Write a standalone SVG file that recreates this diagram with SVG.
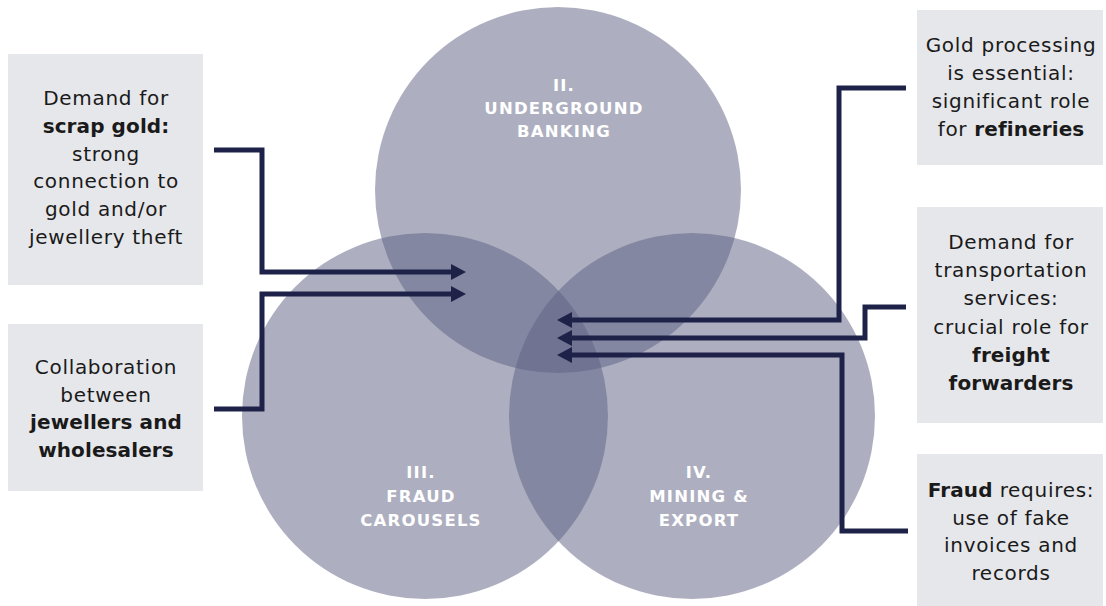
<svg xmlns="http://www.w3.org/2000/svg" width="1106" height="606" viewBox="0 0 1106 606">
  <defs>
    <style>
      .circle { fill: #5b5f81; fill-opacity: 0.5; }
      .box { fill: #e6e7eb; }
      .t { font-family: "DejaVu Sans", "Liberation Sans", sans-serif; font-size: 20px; fill: #1a1a1a; text-anchor: middle; letter-spacing: 0.7px; }
      .b { font-weight: bold; letter-spacing: 0.1px; }
      .lbl { font-family: "DejaVu Sans", "Liberation Sans", sans-serif; font-size: 16.5px; font-weight: bold; fill: #ffffff; text-anchor: middle; letter-spacing: 1.2px; }
      .conn { fill: none; stroke: #1e2248; stroke-width: 5; stroke-linejoin: miter; }
    </style>
    <marker id="arrow" markerUnits="userSpaceOnUse" markerWidth="16" markerHeight="18" refX="0" refY="8" orient="auto" viewBox="0 0 16 16">
      <path d="M0,0 L15,8 L0,16 Z" fill="#1e2248"/>
    </marker>
  </defs>
  <rect width="1106" height="606" fill="#ffffff"/>

  <g id="circle-underground-banking">
    <circle class="circle" cx="558" cy="190" r="183"/>
  </g>
  <g id="circle-fraud-carousels">
    <circle class="circle" cx="425" cy="416" r="183"/>
  </g>
  <g id="circle-mining-export">
    <circle class="circle" cx="692" cy="416" r="183"/>
  </g>
  <g id="labels-circles">
    <text class="lbl" x="564" y="91">II.</text>
    <text class="lbl" x="564" y="114">UNDERGROUND</text>
    <text class="lbl" x="564" y="137">BANKING</text>
    <text class="lbl" x="421" y="478">III.</text>
    <text class="lbl" x="421" y="502">FRAUD</text>
    <text class="lbl" x="421" y="526">CAROUSELS</text>
    <text class="lbl" x="699" y="478">IV.</text>
    <text class="lbl" x="699" y="502">MINING &amp;</text>
    <text class="lbl" x="699" y="526">EXPORT</text>
  </g>

  <g id="box-scrap-gold">
    <rect class="box" x="8" y="54" width="195" height="231"/>
    <text class="t" x="106" y="105">Demand for</text>
    <text class="t b" x="106" y="133">scrap gold:</text>
    <text class="t" x="106" y="161">strong</text>
    <text class="t" x="106" y="188">connection to</text>
    <text class="t" x="106" y="216">gold and/or</text>
    <text class="t" x="106" y="244">jewellery theft</text>
  </g>
  <g id="box-collaboration">
    <rect class="box" x="8" y="324" width="195" height="167"/>
    <text class="t" x="106" y="374">Collaboration</text>
    <text class="t" x="106" y="402">between</text>
    <text class="t b" x="106" y="429">jewellers and</text>
    <text class="t b" x="106" y="457">wholesalers</text>
  </g>
  <g id="box-refineries">
    <rect class="box" x="917" y="10" width="186" height="155"/>
    <text class="t" x="1011" y="52">Gold processing</text>
    <text class="t" x="1011" y="80">is essential:</text>
    <text class="t" x="1011" y="108">significant role</text>
    <text class="t" x="1011" y="136">for <tspan class="b">refineries</tspan></text>
  </g>
  <g id="box-freight">
    <rect class="box" x="917" y="207" width="186" height="216"/>
    <text class="t" x="1011" y="249">Demand for</text>
    <text class="t" x="1011" y="277">transportation</text>
    <text class="t" x="1011" y="305">services:</text>
    <text class="t" x="1011" y="334">crucial role for</text>
    <text class="t b" x="1011" y="362">freight</text>
    <text class="t b" x="1011" y="390">forwarders</text>
  </g>
  <g id="box-fraud">
    <rect class="box" x="917" y="454" width="186" height="152"/>
    <text class="t" x="1011" y="497"><tspan class="b">Fraud</tspan> requires:</text>
    <text class="t" x="1011" y="525">use of fake</text>
    <text class="t" x="1011" y="552">invoices and</text>
    <text class="t" x="1011" y="580">records</text>
  </g>

  <g id="connectors">
    <path class="conn" d="M214,150 H262 V272 H451" marker-end="url(#arrow)"/>
    <path class="conn" d="M214,409 H262 V294 H451" marker-end="url(#arrow)"/>
    <path class="conn" d="M906,88 H839 V320 H572" marker-end="url(#arrow)"/>
    <path class="conn" d="M906,307 H865 V338 H572" marker-end="url(#arrow)"/>
    <path class="conn" d="M908,531 H842 V355 H572" marker-end="url(#arrow)"/>
  </g>
</svg>
